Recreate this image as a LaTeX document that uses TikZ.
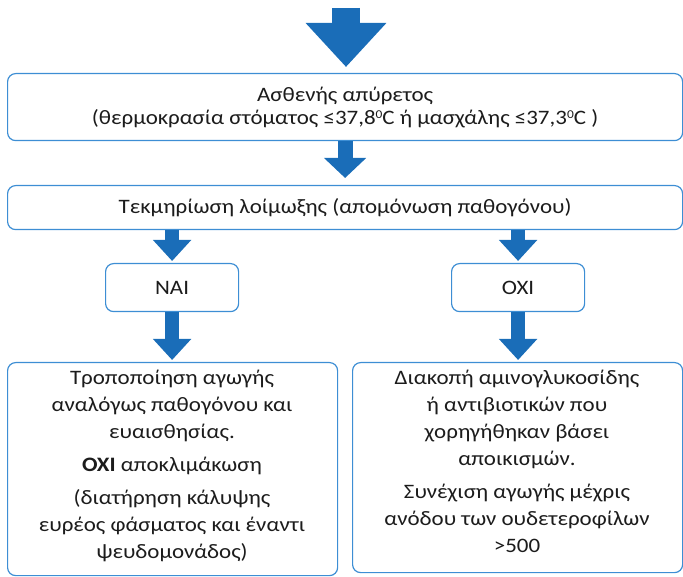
\documentclass[tikz,border=0pt]{standalone}
\usepackage{fontspec}
\setmainfont{Carlito}[FakeStretch=1.12]
\usetikzlibrary{arrows.meta}
\definecolor{flowblue}{HTML}{1A6DB8}
\definecolor{edgeblue}{HTML}{3D8ED4}
\definecolor{ink}{HTML}{1C1C1C}
\newcommand{\degsup}{\raisebox{5.5pt}{\fontsize{12}{12}\selectfont 0}}
\tikzset{
  box/.style={draw=edgeblue, line width=1.2pt, rounded corners=8pt, fill=white,
    text=ink, align=center, inner sep=0pt, anchor=north west},
  bigflow/.style={draw=flowblue, line width=28pt,
    -{Triangle[width=78pt,length=44pt]}},
  flow/.style={draw=flowblue, line width=15pt,
    -{Triangle[width=41pt,length=20pt]}},
  smallflow/.style={draw=flowblue, line width=14pt,
    -{Triangle[width=37pt,length=21pt]}},
  txt/.style={font=\fontsize{20.5}{23}\selectfont},
  bodytxt/.style={font=\fontsize{20.5}{26.7}\selectfont, text=ink, align=center, anchor=north}
}
\begin{document}
\begin{tikzpicture}[x=1pt,y=-1pt]
\useasboundingbox (0,0) rectangle (683,577);

% boxes
\node[box, txt, minimum width=675pt, minimum height=67pt] (fever) at (7,73)
  {Ασθενής απύρετος\\(θερμοκρασία στόματος ≤37,8\degsup C ή μασχάλης ≤37,3\degsup C )};
\node[box, txt, minimum width=675pt, minimum height=44pt] (doc) at (7,185)
  {Τεκμηρίωση λοίμωξης (απομόνωση παθογόνου)};
\node[box, txt, minimum width=133pt, minimum height=48pt] (yes) at (105,263) {ΝΑΙ};
\node[box, txt, minimum width=133pt, minimum height=48pt] (no) at (451,263) {ΟΧΙ};
\node[box, minimum width=330pt, minimum height=213pt] (left) at (7,362) {};
\node[box, minimum width=330pt, minimum height=210pt] (right) at (352,362) {};

% box texts
\node[bodytxt] (lefttxt) at (172,367)
  {Τροποποίηση αγωγής\\αναλόγως παθογόνου και\\ευαισθησίας.\\[6.5pt]
   \textbf{ΟΧΙ} αποκλιμάκωση\\[6.5pt]
   (διατήρηση κάλυψης\\ευρέος φάσματος και έναντι\\ψευδομονάδος)};
\node[bodytxt] (righttxt) at (517,367)
  {Διακοπή αμινογλυκοσίδης\\ή αντιβιοτικών που\\χορηγήθηκαν βάσει\\αποικισμών.\\[7pt]
   Συνέχιση αγωγής μέχρις\\ανόδου των ουδετεροφίλων\\>500};

% arrows
\coordinate (start) at (346,8);
\draw[bigflow] (start) -- ([yshift=6pt]fever.north -| start);
\draw[flow] (fever.south) -- ([yshift=7pt]doc.north);
\draw[smallflow] (doc.south -| yes.north) -- ([yshift=2pt]yes.north);
\draw[smallflow] (doc.south -| no.north) -- ([yshift=2pt]no.north);
\draw[smallflow] (yes.south) -- ([yshift=2pt]yes.south |- left.north);
\draw[smallflow] (no.south) -- ([yshift=2pt]no.south |- right.north);
\end{tikzpicture}
\end{document}
